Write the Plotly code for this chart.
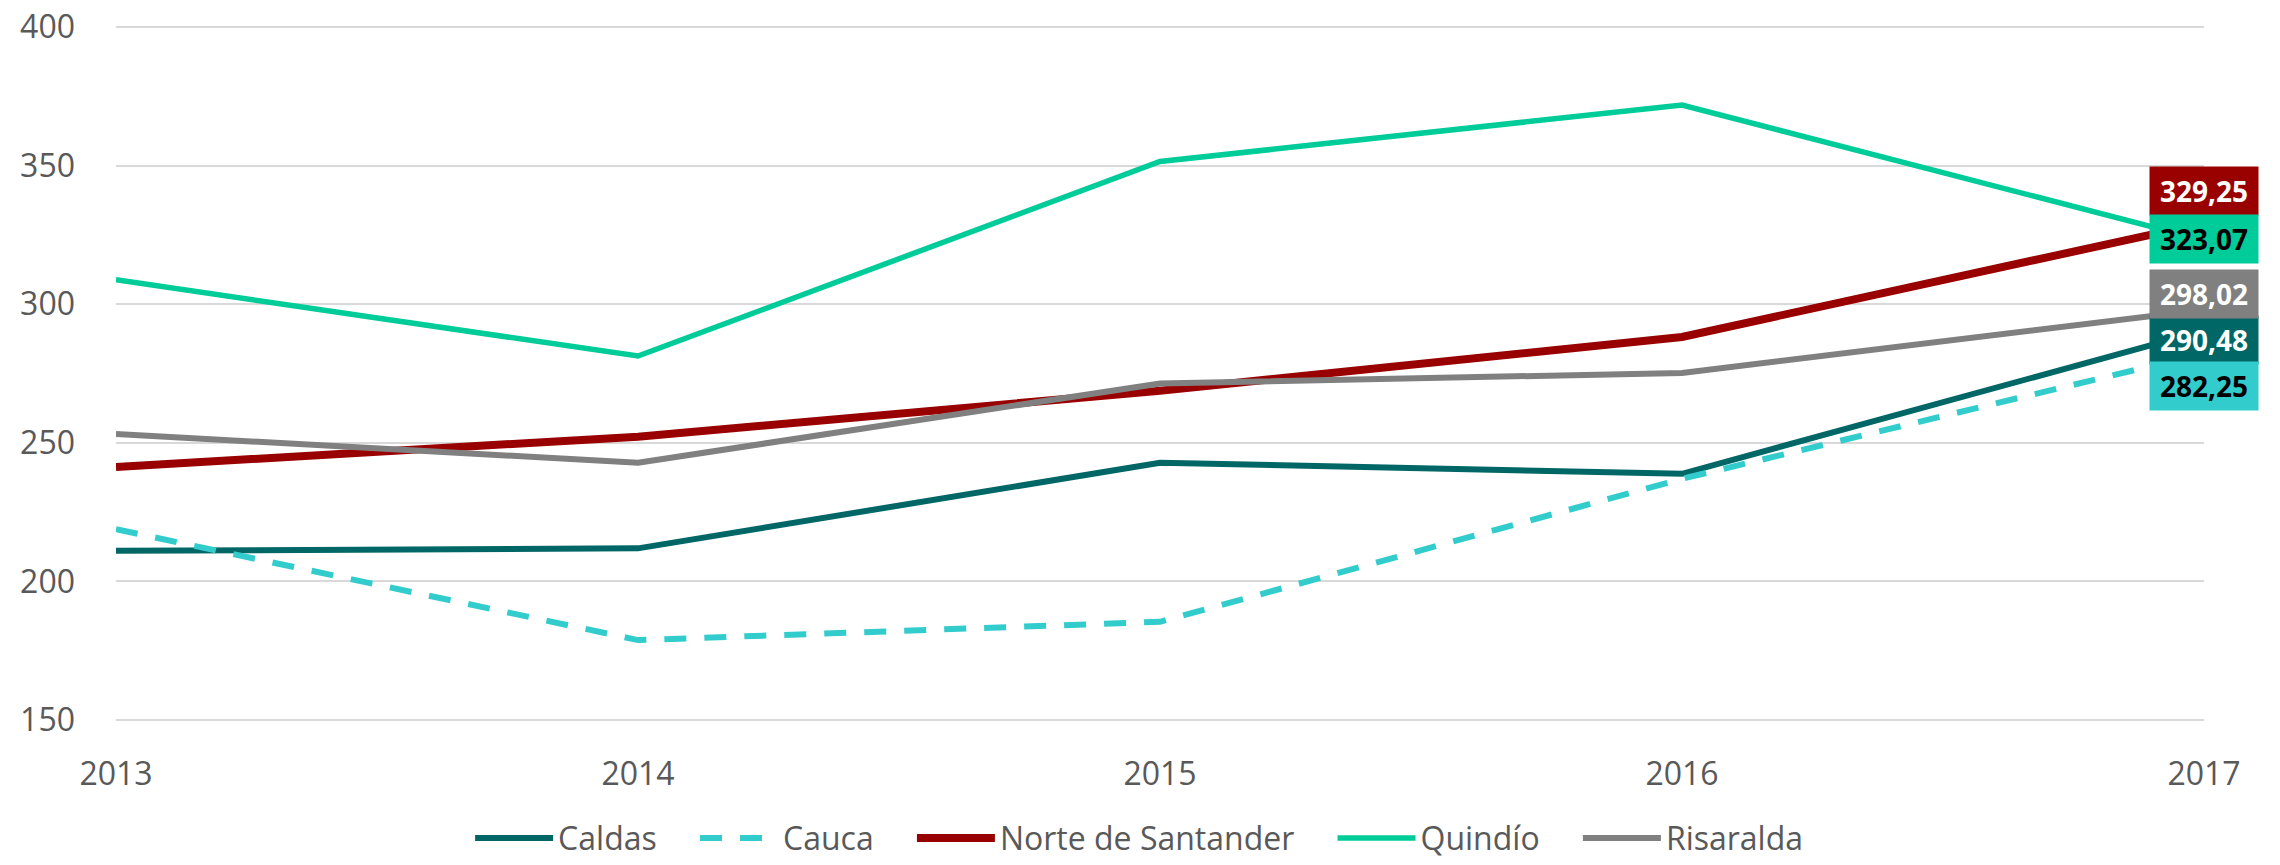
import plotly.graph_objects as go

years = [2013, 2014, 2015, 2016, 2017]
caldas = [211.0, 211.9, 242.8, 238.8, 290.48]
cauca = [218.8, 178.8, 185.4, 237.0, 282.25]
norte = [241.3, 252.2, 268.8, 288.2, 329.25]
quindio = [308.8, 281.3, 351.5, 371.9, 323.07]
risaralda = [253.2, 242.8, 271.4, 275.2, 298.02]

names = ["Caldas", "Cauca", "Norte de Santander", "Quindío", "Risaralda"]
series = [caldas, cauca, norte, quindio, risaralda]
colors = ["#006766", "#33CCCC", "#990000", "#00CC99", "#808080"]
widths = [6, 6, 8, 5.5, 6]
dashes = ["solid", "22px,18px", "solid", "solid", "solid"]
label_text_colors = ["white", "black", "white", "black", "white"]
label_shifts = {"Norte de Santander": 32, "Quindío": 1, "Risaralda": 15.5,
                "Caldas": -9.5, "Cauca": -32.7}

fig = go.Figure()
for i, (n, s, c, w, d) in enumerate(zip(names, series, colors, widths, dashes)):
    pad = "\u00a0\u00a0\u00a0\u00a0" if i < len(names) - 1 else ""
    fig.add_trace(go.Scatter(x=years, y=s, name=n + pad, mode="lines",
                             hovertemplate=n + ": %{y}<extra></extra>",
                             line=dict(color=c, width=w, dash=d)))

for n, s, c, tc in zip(names, series, colors, label_text_colors):
    fig.add_annotation(x=years[-1], y=s[-1], xref="x", yref="y",
                       text=f"{s[-1]:.2f}".replace(".", ","),
                       showarrow=False, yshift=label_shifts[n],
                       bgcolor=c, width=106, height=46, borderpad=1,
                       font=dict(family="Open Sans", size=28, color=tc,
                                 weight="bold"))

fig.update_layout(
    width=2280, height=865,
    margin=dict(l=116, r=76, t=26, b=144),
    plot_bgcolor="white", paper_bgcolor="white",
    font=dict(family="Open Sans", size=32, color="#595959"),
    showlegend=True,
    legend=dict(orientation="h", x=0.49, xanchor="center",
                yref="container", y=0.031, yanchor="middle",
                font=dict(size=32, color="#595959"), itemwidth=78),
    xaxis=dict(range=[2013, 2017], tickvals=years, showgrid=False,
               zeroline=False, showline=False, ticklabelstandoff=31,
               automargin=False),
    yaxis=dict(range=[149.6, 400.4], tickvals=[150, 200, 250, 300, 350, 400],
               showgrid=True, gridcolor="#D9D9D9", gridwidth=2,
               zeroline=False, showline=False, ticklabelstandoff=40,
               automargin=False),
)

fig.write_html("out.html", config={"displayModeBar": False},
               post_script="document.body.style.margin='0';"
                           "document.body.style.overflow='hidden';")
